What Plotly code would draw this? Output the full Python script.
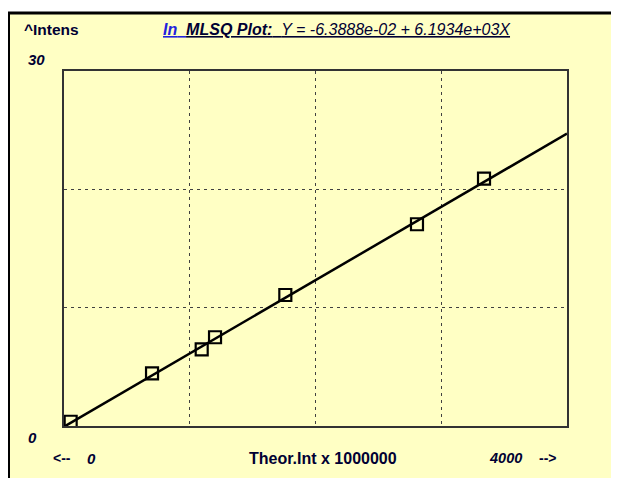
import plotly.graph_objects as go

# --- data ---
theor_int = [53, 700, 1095, 1201, 1760, 2807, 3340]          # Theor.Int x 1000000
intens = [0.36, 4.45, 6.48, 7.50, 11.07, 17.05, 20.90]

# fit shown in the title
intercept = -6.3888e-02
slope = 6.1934e+03
fit_x = [0, 4000]
fit_y = [intercept + slope * v / 1e6 for v in fit_x]

x_grid = [1000, 2000, 3000]
y_grid = [10, 20]

# page puts the plot 8px in from the top left corner (body margin)
OFF = 8
W, H = 619 - OFF, 478 - OFF
L, R, T, B = 64, 567, 71, 426   # plot area, screen pixels
BG = "#FFFFC4"
INK = "#000033"
FONT = "Liberation Sans, Arial, sans-serif"


def px(x):
    return (x - L) / (R - L)


def py(y):
    return (B - y) / (B - T)


fig = go.Figure()

fig.add_trace(go.Scatter(
    x=fit_x, y=fit_y, mode="lines",
    line=dict(color="black", width=2.5),
    showlegend=False, hoverinfo="skip",
))
fig.add_trace(go.Scatter(
    x=theor_int, y=intens, mode="markers",
    marker=dict(symbol="square-open", size=12, color="black",
                line=dict(color="black", width=2.2)),
    showlegend=False,
))

fig.update_xaxes(
    range=[0, 4000], tickvals=x_grid, showticklabels=False, ticks="",
    showgrid=True, gridcolor="#404040", gridwidth=1, griddash="3px,4px",
    showline=True, linecolor="#333333", linewidth=1.5, mirror=True,
    zeroline=False, fixedrange=True,
)
fig.update_yaxes(
    range=[0, 30], tickvals=y_grid, showticklabels=False, ticks="",
    showgrid=True, gridcolor="#404040", gridwidth=1, griddash="3px,4px",
    showline=True, linecolor="#333333", linewidth=1.5, mirror=True,
    zeroline=False, fixedrange=True,
)

# panel background and border (top + left only)
shapes = [
    dict(type="rect", xref="paper", yref="paper", layer="below",
         x0=px(OFF), x1=px(640), y0=py(500), y1=py(12),
         fillcolor=BG, line=dict(width=0)),
    dict(type="line", xref="paper", yref="paper",
         x0=px(OFF), x1=px(640), y0=py(13), y1=py(13),
         line=dict(color="black", width=3)),
    dict(type="line", xref="paper", yref="paper",
         x0=px(OFF + 1), x1=px(OFF + 1), y0=py(12), y1=py(500),
         line=dict(color="black", width=2)),
]


def label(text, x, y, size=15, anchor="left", color=INK):
    return dict(text=text, x=px(x), y=py(y), xref="paper", yref="paper",
                xanchor=anchor, yanchor="middle", showarrow=False,
                font=dict(family=FONT, size=size, color=color))


title = ("<span style='color:#2222DD'><u><b><i>In</i></b>&nbsp;&nbsp;</u></span>"
         "<u><b><i>MLSQ Plot:</i></b>&nbsp;&nbsp;"
         "<i>Y = -6.3888e-02 + 6.1934e+03X</i></u>")

annotations = [
    label("<b>^Intens</b>", 22, 30, size=15.5),
    label(title, 161, 30, size=16),
    label("<b><i>30</i></b>", 26, 59),
    label("<b><i>0</i></b>", 26, 437),
    label("<b>&lt;--</b>", 51, 458, size=14),
    label("<b><i>0</i></b>", 85, 458),
    label("<b>Theor.Int x 1000000</b>", 323, 458, size=16, anchor="center"),
    label("<b><i>4000</i></b>", 487, 458, size=14.5),
    label("<b>--&gt;</b>", 537, 458, size=14),
]

fig.update_layout(
    width=W, height=H, autosize=False,
    margin=dict(l=L - OFF, r=OFF + W - R, t=T - OFF, b=OFF + H - B),
    paper_bgcolor="white", plot_bgcolor=BG,
    shapes=shapes, annotations=annotations,
    showlegend=False,
)

fig.write_html("out.html")
